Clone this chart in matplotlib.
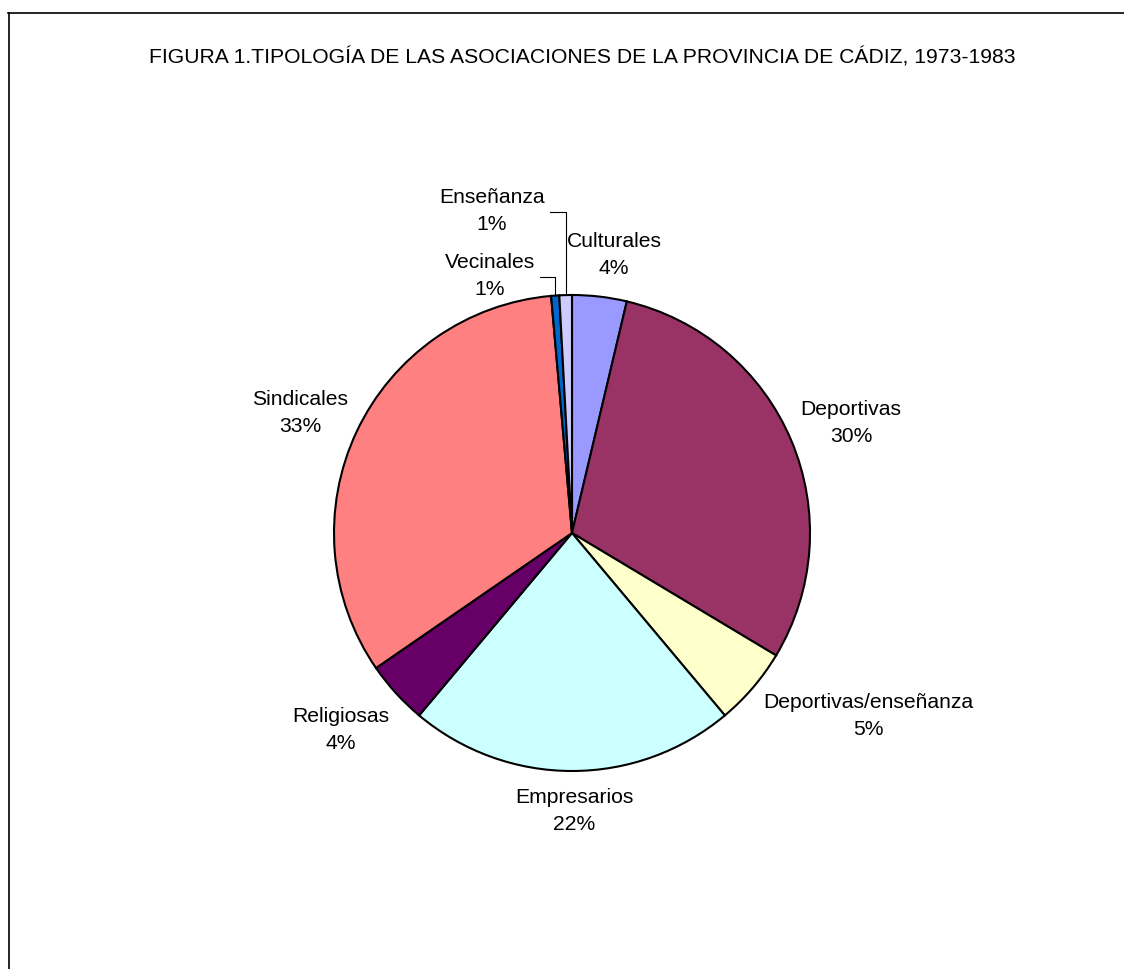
import numpy as np
import matplotlib
matplotlib.use("Agg")
import matplotlib.pyplot as plt
from matplotlib.lines import Line2D

plt.rcParams["font.family"] = ["Liberation Sans", "DejaVu Sans"]

# Data (share of associations, %), clockwise from the top
categories = ["Culturales", "Deportivas", "Deportivas/enseñanza", "Empresarios",
              "Religiosas", "Sindicales", "Vecinales", "Enseñanza"]
shares = [3.7, 29.9, 5.3, 22.2, 4.3, 33.2, 0.55, 0.85]
pct_labels = ["4%", "30%", "5%", "22%", "4%", "33%", "1%", "1%"]
colors = ["#9999FF", "#993366", "#FFFFCC", "#CCFFFF",
          "#660066", "#FF8080", "#0066CC", "#CCCCFF"]

title = "FIGURA 1.TIPOLOGÍA DE LAS ASOCIACIONES DE LA PROVINCIA DE CÁDIZ, 1973-1983"

W, H = 1124, 969
fig = plt.figure(figsize=(W / 100, H / 100), dpi=100)
ax = fig.add_axes([0, 0, 1, 1])

cx, cy, r = 572, H - 533, 238
wedges, _ = ax.pie(shares, colors=colors, startangle=90, counterclock=False,
                   center=(cx, cy), radius=r, frame=True,
                   wedgeprops=dict(edgecolor="black", linewidth=1.5))
ax.set_xlim(0, W)
ax.set_ylim(0, H)
ax.set_aspect("equal")
ax.axis("off")

# label text centres (pixels from top-left)
label_pos = [(614, 255), (851, 423), (868, 716), (574, 811),
             (341, 730), (300, 413), (490, 276), (492, 211)]
for name, pct, (lx, ly) in zip(categories, pct_labels, label_pos):
    ax.text(lx, H - ly, f"{name}\n{pct}", ha="center", va="center",
            fontsize=15.2, linespacing=1.5)

# leader lines for the two thin slices
elbows = {6: (540, 277), 7: (550, 212)}
for i, (ex, ey) in elbows.items():
    w = wedges[i]
    mid = np.deg2rad((w.theta1 + w.theta2) / 2)
    px = cx + r * np.cos(mid)
    py = cy + r * np.sin(mid)
    ax.plot([ex, px, px], [H - ey, H - ey, py], color="black", lw=0.8)

ax.text(582, H - 57, title, ha="center", va="center", fontsize=15.2)

# outer frame (right and bottom edges fall outside the image)
fig.add_artist(Line2D([8.5 / W, 8.5 / W], [0, 1 - 13 / H], color="black", lw=1.2,
                      transform=fig.transFigure))
fig.add_artist(Line2D([8 / W, 1], [1 - 13 / H, 1 - 13 / H], color="black", lw=1.2,
                      transform=fig.transFigure))

fig.savefig("out.png", dpi=100)
